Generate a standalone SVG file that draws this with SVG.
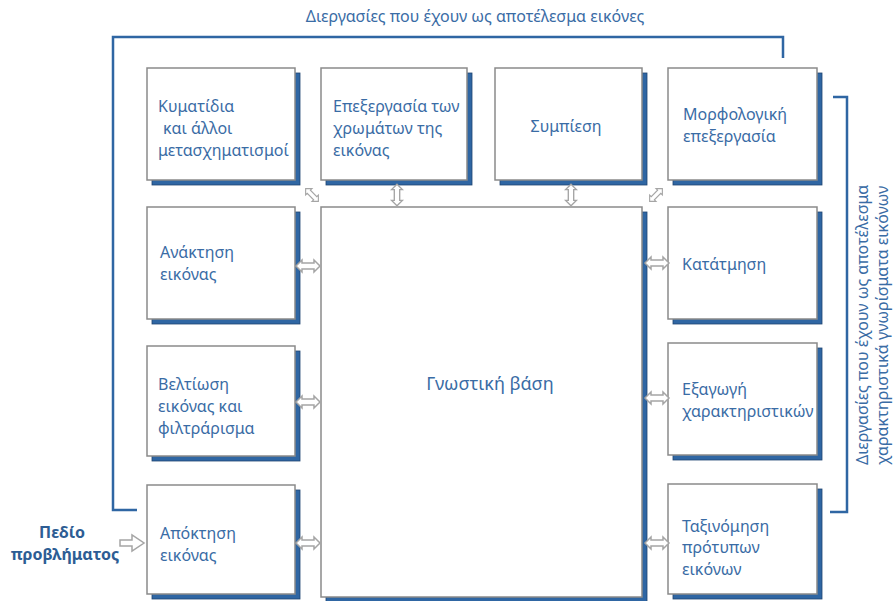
<svg xmlns="http://www.w3.org/2000/svg" width="893" height="601" viewBox="0 0 893 601">
<style>
  .box { fill: #ffffff; stroke: #8a8a8a; stroke-width: 1.5; }
  .shadow { fill: #2f66a3; stroke: #1f4470; stroke-width: 0.8; }
  .t { font-family: "Noto Sans", "Open Sans", sans-serif; font-size: 16px; fill: #3a6ca5; }
  .big { font-size: 18px; }
  .bold { font-weight: bold; fill: #2d5d94; }
  .bracket { fill: none; stroke: #2f66a3; stroke-width: 2.5; }
  .arr { fill: #ffffff; stroke: #a5a5a5; stroke-width: 1.5; stroke-linejoin: miter; }
</style>
<defs>
  <path id="dbl" d="M-12,0 L-6,-6 L-6,-3 L6,-3 L6,-6 L12,0 L6,6 L6,3 L-6,3 L-6,6 Z"/>
</defs>
<rect width="893" height="601" fill="#ffffff"/>

<g id="brackets">
  <text class="t" x="475" y="22" text-anchor="middle">Διεργασίες που έχουν ως αποτέλεσμα εικόνες</text>
  <polyline class="bracket" points="137,510 113,510 113,37 783,37 783,58"/>
  <polyline class="bracket" points="833,97 847,97 847,512 830,512"/>
  <text class="t" transform="translate(868,465) rotate(-90)">Διεργασίες που έχουν ως αποτέλεσμα</text>
  <text class="t" transform="translate(888,465) rotate(-90)">χαρακτηριστικά γνωρίσματα εικόνων</text>
</g>

<g id="kymatidia">
  <rect class="shadow" x="152" y="73" width="148" height="112"/>
  <rect class="box" x="147" y="68" width="148" height="112"/>
  <text class="t" x="158" y="112">Κυματίδια</text>
  <text class="t" x="163" y="134">και άλλοι</text>
  <text class="t" x="158" y="156">μετασχηματισμοί</text>
</g>
<g id="chromata">
  <rect class="shadow" x="326" y="73" width="146" height="112"/>
  <rect class="box" x="321" y="68" width="146" height="112"/>
  <text class="t" x="333" y="112">Επεξεργασία των</text>
  <text class="t" x="333" y="134">χρωμάτων της</text>
  <text class="t" x="333" y="156">εικόνας</text>
</g>
<g id="sympiesi">
  <rect class="shadow" x="500" y="73" width="147" height="112"/>
  <rect class="box" x="495" y="68" width="147" height="112"/>
  <text class="t" x="566" y="132" text-anchor="middle">Συμπίεση</text>
</g>
<g id="morfologiki">
  <rect class="shadow" x="673" y="73" width="149" height="112"/>
  <rect class="box" x="668" y="68" width="149" height="112"/>
  <text class="t" x="683" y="120">Μορφολογική</text>
  <text class="t" x="683" y="142">επεξεργασία</text>
</g>

<g id="anaktisi">
  <rect class="shadow" x="152" y="212" width="148" height="112"/>
  <rect class="box" x="147" y="207" width="148" height="112"/>
  <text class="t" x="160" y="258">Ανάκτηση</text>
  <text class="t" x="160" y="280">εικόνας</text>
</g>
<g id="veltiosi">
  <rect class="shadow" x="152" y="351" width="148" height="110"/>
  <rect class="box" x="147" y="346" width="148" height="110"/>
  <text class="t" x="158" y="390">Βελτίωση</text>
  <text class="t" x="158" y="412">εικόνας και</text>
  <text class="t" x="158" y="434">φιλτράρισμα</text>
</g>
<g id="apoktisi">
  <rect class="shadow" x="152" y="490" width="148" height="109"/>
  <rect class="box" x="147" y="485" width="148" height="109"/>
  <text class="t" x="160" y="539">Απόκτηση</text>
  <text class="t" x="160" y="561">εικόνας</text>
</g>

<g id="gnostiki">
  <rect class="shadow" x="326" y="212" width="321" height="395"/>
  <rect class="box" x="321" y="207" width="321" height="390"/>
  <text class="t big" x="490" y="390" text-anchor="middle">Γνωστική βάση</text>
</g>

<g id="katatmisi">
  <rect class="shadow" x="673" y="212" width="149" height="112"/>
  <rect class="box" x="668" y="207" width="149" height="112"/>
  <text class="t" x="682" y="270">Κατάτμηση</text>
</g>
<g id="exagogi">
  <rect class="shadow" x="673" y="348" width="149" height="112"/>
  <rect class="box" x="668" y="343" width="149" height="112"/>
  <text class="t" x="682" y="395">Εξαγωγή</text>
  <text class="t" x="682" y="417">χαρακτηριστικών</text>
</g>
<g id="taxinomisi">
  <rect class="shadow" x="673" y="489" width="149" height="110"/>
  <rect class="box" x="668" y="484" width="149" height="110"/>
  <text class="t" x="682" y="532">Ταξινόμηση</text>
  <text class="t" x="682" y="553">πρότυπων</text>
  <text class="t" x="682" y="575">εικόνων</text>
</g>

<g id="pedio">
  <text class="t bold" x="62" y="538" text-anchor="middle">Πεδίο</text>
  <text class="t bold" x="65" y="560" text-anchor="middle">προβλήματος</text>
</g>

<g id="connectors">
  <polygon class="arr" points="120,540 132,540 132,535 144,543 132,551 132,546 120,546"/>
  <use href="#dbl" class="arr" transform="translate(308,266)"/>
  <use href="#dbl" class="arr" transform="translate(308,402)"/>
  <use href="#dbl" class="arr" transform="translate(308,543)"/>
  <use href="#dbl" class="arr" transform="translate(657,263)"/>
  <use href="#dbl" class="arr" transform="translate(657,398)"/>
  <use href="#dbl" class="arr" transform="translate(657,543)"/>
  <use href="#dbl" class="arr" transform="translate(397,195) rotate(90) scale(0.9)"/>
  <use href="#dbl" class="arr" transform="translate(571,195) rotate(90) scale(0.9)"/>
  <use href="#dbl" class="arr" transform="translate(312,195) rotate(45) scale(0.75)"/>
  <use href="#dbl" class="arr" transform="translate(656,195) rotate(-45) scale(0.75)"/>
</g>
</svg>
